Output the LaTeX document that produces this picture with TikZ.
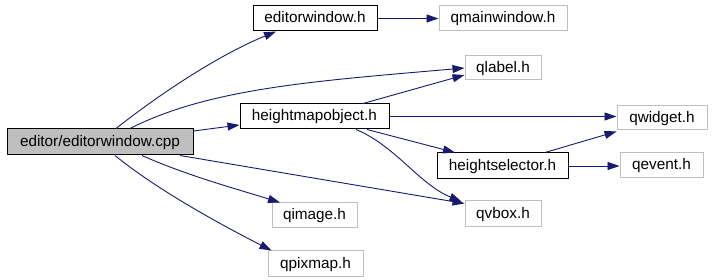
\documentclass[tikz,border=0pt]{standalone}
\usepackage{fontspec}
\setmainfont{Liberation Sans}
\usetikzlibrary{arrows.meta}
\definecolor{edgeblue}{HTML}{191970}
\definecolor{boxgray}{HTML}{BFBFBF}
\tikzset{
  file/.style={draw=black, line width=1pt, inner sep=0pt, minimum height=25pt,
    text height=11.6pt, text depth=3pt, font=\fontsize{15.3pt}{18pt}\selectfont},
  extfile/.style={file, draw=boxgray},
  rootfile/.style={file, fill=boxgray},
  dep/.style={draw=edgeblue, line width=0.9pt,
    -{Triangle[length=12pt,width=8pt]}, color=edgeblue},
}
\begin{document}
\begin{tikzpicture}[x=1pt, y=-1pt]
\useasboundingbox (0,0) rectangle (712,280);

% files
\node[rootfile, minimum width=186pt, minimum height=26pt] (cpp) at (100,142) {editor/editorwindow.cpp};
\node[file, minimum width=124pt] (ew) at (315,18.5) {editorwindow.h};
\node[extfile, minimum width=128pt] (qmw) at (503,18.5) {qmainwindow.h};
\node[extfile, minimum width=76pt, minimum height=24pt] (qlabel) at (503,68) {qlabel.h};
\node[file, minimum width=149pt] (hmo) at (314.5,116.5) {heightmapobject.h};
\node[extfile, minimum width=90pt, minimum height=24pt] (qwidget) at (662,118) {qwidget.h};
\node[file, minimum width=131pt, minimum height=26pt] (hs) at (502.5,166) {heightselector.h};
\node[extfile, minimum width=83pt] (qevent) at (661.5,165.5) {qevent.h};
\node[extfile, minimum width=76pt, minimum height=26pt] (qvbox) at (503,214) {qvbox.h};
\node[extfile, minimum width=85pt] (qimage) at (314.5,215.5) {qimage.h};
\node[extfile, minimum width=95pt, minimum height=26pt] (qpixmap) at (315.5,264) {qpixmap.h};

% includes of editorwindow.cpp
\draw[dep] ([xshift=16pt]cpp.north) .. controls +(47,-37) and +(-56,23) .. ([xshift=-39pt]ew.south);
\draw[dep] ([xshift=30pt]cpp.north) .. controls +(80,-40.5) and +(-149,13) .. (qlabel.west);
\draw[dep] ([yshift=11pt]cpp.east) -- ([yshift=-8.5pt]hmo.west);
\draw[dep] ([xshift=80pt]cpp.south) -- ([yshift=-3pt]qvbox.north west);
\draw[dep] ([xshift=42pt]cpp.south) .. controls +(45,20) and +(-45,-14) .. ([xshift=-34.5pt]qimage.north);
\draw[dep] ([xshift=15pt]cpp.south) .. controls +(43,35) and +(-49,-25) .. ([xshift=4pt]qpixmap.north west);

% includes of editorwindow.h
\draw[dep] (ew.east) -- (qmw.west);

% includes of heightmapobject.h
\draw[dep] ([xshift=48.5pt]hmo.north) -- ([yshift=-7pt]qlabel.west);
\draw[dep] (hmo.east) -- (qwidget.west |- hmo.east);
\draw[dep] ([xshift=52.5pt]hmo.south) -- ([xshift=-47.5pt]hs.north);
\draw[dep] ([xshift=41.5pt]hmo.south) .. controls +(39,16) and +(-42,-17) .. ([xshift=-3pt,yshift=-1pt]qvbox.north west);

% includes of heightselector.h
\draw[dep] ([xshift=42.5pt]hs.north) -- ([yshift=-1pt]qwidget.south west);
\draw[dep] (hs.east) -- (qevent.west |- hs.east);
\end{tikzpicture}
\end{document}
